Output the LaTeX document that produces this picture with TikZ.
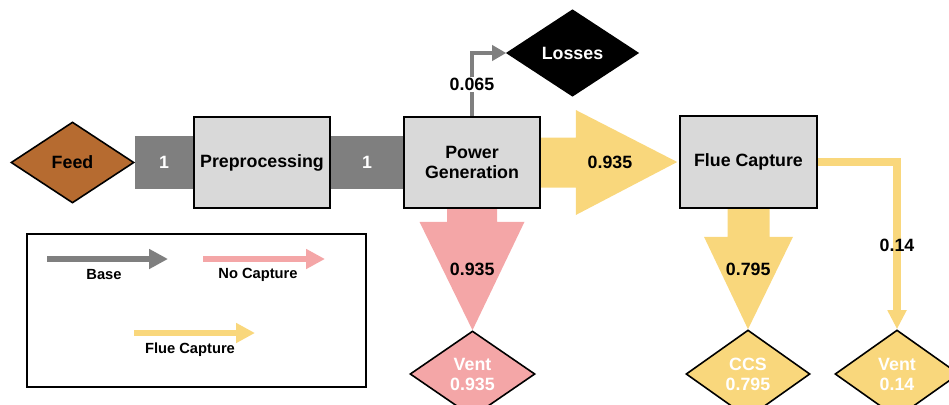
\documentclass[tikz,border=0pt]{standalone}
\usepackage{fontspec}
\setmainfont{Liberation Sans}
\usetikzlibrary{shapes.geometric,arrows.meta,calc,backgrounds}
\definecolor{basegray}{HTML}{7F7F7F}
\definecolor{boxgray}{HTML}{D9D9D9}
\definecolor{pinkc}{HTML}{F4A6A7}
\definecolor{yellowc}{HTML}{F9D77C}
\definecolor{feedbrown}{HTML}{B66B30}
\begin{document}
\begin{tikzpicture}[x=1pt,y=-1pt,
  txt/.style={font=\fontsize{17.8}{20}\selectfont\bfseries, align=center},
  lbl/.style={font=\fontsize{14.7}{17}\selectfont\bfseries},
  unit/.style={txt, draw=black, line width=1.6pt, fill=boxgray,
    minimum width=136pt, minimum height=91pt, inner sep=0pt},
  term/.style={txt, shape=diamond, draw=black, line width=1.6pt, inner sep=0pt,
    minimum width=124pt, minimum height=86pt},
  legarrow/.style={line width=5.3pt, -{Triangle[length=19pt,width=19pt]}},
]
\useasboundingbox (0,0) rectangle (949,404);
\clip (0,0) rectangle (949,404);

% process units and terminals
\node[term, fill=feedbrown, minimum width=123pt, minimum height=81pt] (feed) at (72.5,162.5) {Feed};
\node[unit] (pre) at (262,162.5) {Preprocessing};
\node[unit] (pow) at (472,162.5) {Power\\Generation};
\node[unit, minimum width=137pt, minimum height=92pt] (flue) at (748.5,162) {Flue Capture};
\node[term, fill=black, text=white, minimum width=131pt] (loss) at (572.5,53) {Losses};
\node[term, fill=pinkc, text=white, minimum width=125pt] (vent1) at (472.5,374) {Vent\\0.935};
\node[term, fill=yellowc, text=white, minimum height=88pt] (ccs) at (748,374) {CCS\\0.795};
\node[term, fill=yellowc, text=white, minimum height=88pt] (vent2) at (897,374) {Vent\\0.14};

% flows
\begin{scope}[on background layer]
  \draw[basegray, line width=53pt] (feed.east) -- node[txt, text=white]{1} (pre.west);
  \draw[basegray, line width=53pt] (pre.east) -- node[txt, text=white]{1} (pow.west);

  \draw[basegray, line width=4pt, -{Triangle[length=14pt,width=15pt]}]
    (pow.north) |- node[pos=0.25, txt, text=black, fill=white, inner sep=1.5pt]{0.065} (loss.west);

  \fill[yellowc] ($(pow.east)+(0,-25)$) -- ($(pow.east)+(35,-25)$) -- ($(pow.east)+(35,-52.5)$)
    -- ($(flue.west)+(-2,0)$) -- ($(pow.east)+(35,52.5)$) -- ($(pow.east)+(35,25)$)
    -- ($(pow.east)+(0,25)$) -- cycle;
  \path (pow.east) -- node[txt]{0.935} (flue.west);

  \fill[pinkc] ($(pow.south)+(-25,0)$) -- ($(pow.south)+(-25,13)$) -- ($(pow.south)+(-52.5,13)$)
    -- (vent1.north) -- ($(pow.south)+(52.5,13)$) -- ($(pow.south)+(25,13)$)
    -- ($(pow.south)+(25,0)$) -- cycle;
  \path (pow.south) -- node[txt]{0.935} (vent1.north);

  \fill[yellowc] ($(flue.south)+(-21,0)$) -- ($(flue.south)+(-21,28)$) -- ($(flue.south)+(-44.5,28)$)
    -- (ccs.north) -- ($(flue.south)+(44.5,28)$) -- ($(flue.south)+(21,28)$)
    -- ($(flue.south)+(21,0)$) -- cycle;
  \path (flue.south) -- node[txt]{0.795} (ccs.north);

  \draw[yellowc, line width=7.5pt, -{Triangle[length=19pt,width=18pt]}]
    (flue.east) -| node[pos=0.75, txt, text=black]{0.14} (vent2.north);
\end{scope}

% legend
\node[draw=black, line width=1.8pt, minimum width=339pt, minimum height=153pt, inner sep=0pt]
  (legend) at (196.5,310.5) {};
\coordinate (b0) at (47,259);  \coordinate (b1) at (168,259);
\coordinate (p0) at (203,259); \coordinate (p1) at (325,259);
\coordinate (y0) at (134,333); \coordinate (y1) at (255,333);
\draw[basegray, legarrow] (b0) -- (b1);
\draw[pinkc, legarrow] (p0) -- (p1);
\draw[yellowc, legarrow] (y0) -- (y1);
\node[lbl] (lbase) at (104,275) {Base};
\node[lbl] (lnocap) at (258,275) {No Capture};
\node[lbl] (lflue) at (190,350) {Flue Capture};
\end{tikzpicture}
\end{document}
